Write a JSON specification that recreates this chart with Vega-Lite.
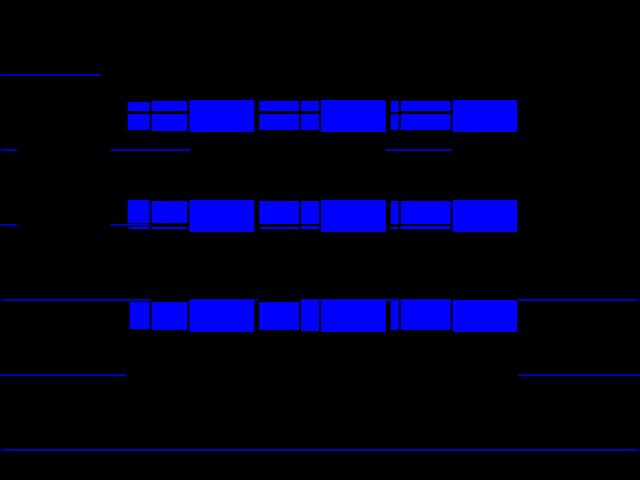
{
  "$schema": "https://vega.github.io/schema/vega-lite/v6.json",
  "description": "Blue blocks on black",
  "width": 640,
  "height": 480,
  "autosize": {"type": "fit", "contains": "padding"},
  "padding": 0,
  "background": "#000000",
  "config": {"view": {"stroke": null}},
  "datasets": {
    "blocks": [
      {"x": 127, "x2": 149, "y": 102, "y2": 111},
      {"x": 127, "x2": 149, "y": 114, "y2": 130},
      {"x": 151, "x2": 187, "y": 101, "y2": 111},
      {"x": 151, "x2": 187, "y": 114, "y2": 131},
      {"x": 189, "x2": 254, "y": 100, "y2": 132},
      {"x": 259, "x2": 299, "y": 101, "y2": 111},
      {"x": 259, "x2": 299, "y": 114, "y2": 130},
      {"x": 301, "x2": 319, "y": 101, "y2": 111},
      {"x": 301, "x2": 319, "y": 114, "y2": 130},
      {"x": 321, "x2": 386, "y": 100, "y2": 132},
      {"x": 391, "x2": 399, "y": 101, "y2": 112},
      {"x": 391, "x2": 399, "y": 114, "y2": 130},
      {"x": 401, "x2": 451, "y": 101, "y2": 111},
      {"x": 401, "x2": 451, "y": 114, "y2": 130},
      {"x": 453, "x2": 518, "y": 100, "y2": 132},
      {"x": 127, "x2": 149, "y": 200, "y2": 223},
      {"x": 128, "x2": 149, "y": 227, "y2": 229},
      {"x": 151, "x2": 187, "y": 201, "y2": 223},
      {"x": 151, "x2": 187, "y": 227, "y2": 229},
      {"x": 189, "x2": 254, "y": 200, "y2": 232},
      {"x": 259, "x2": 299, "y": 201, "y2": 224},
      {"x": 260, "x2": 299, "y": 227, "y2": 229},
      {"x": 301, "x2": 319, "y": 201, "y2": 224},
      {"x": 301, "x2": 319, "y": 226, "y2": 229},
      {"x": 321, "x2": 386, "y": 200, "y2": 232},
      {"x": 391, "x2": 399, "y": 201, "y2": 224},
      {"x": 391, "x2": 399, "y": 227, "y2": 229},
      {"x": 401, "x2": 451, "y": 201, "y2": 224},
      {"x": 401, "x2": 451, "y": 226, "y2": 229},
      {"x": 453, "x2": 518, "y": 200, "y2": 232},
      {"x": 129, "x2": 149, "y": 302, "y2": 329},
      {"x": 151, "x2": 187, "y": 302, "y2": 330},
      {"x": 189, "x2": 254, "y": 300, "y2": 332},
      {"x": 259, "x2": 299, "y": 302, "y2": 330},
      {"x": 301, "x2": 319, "y": 300, "y2": 331},
      {"x": 321, "x2": 386, "y": 300, "y2": 332},
      {"x": 391, "x2": 399, "y": 301, "y2": 330},
      {"x": 401, "x2": 451, "y": 300, "y2": 330},
      {"x": 453, "x2": 518, "y": 300, "y2": 332}
    ],
    "lines": [
      {"y": 75, "x": 0, "x2": 100},
      {"y": 150, "x": 0, "x2": 16},
      {"y": 150, "x": 110, "x2": 190},
      {"y": 150, "x": 386, "x2": 453},
      {"y": 225, "x": 0, "x2": 16},
      {"y": 225, "x": 110, "x2": 150},
      {"y": 300, "x": 0, "x2": 150},
      {"y": 300, "x": 189, "x2": 258},
      {"y": 300, "x": 300, "x2": 452},
      {"y": 300, "x": 518, "x2": 640},
      {"y": 375, "x": 0, "x2": 125},
      {"y": 375, "x": 519, "x2": 640},
      {"y": 450, "x": 0, "x2": 640}
    ]
  },
  "layer": [
    {
      "data": {"name": "lines"},
      "mark": {"type": "rule", "color": "#0000ff", "strokeWidth": 1.5},
      "encoding": {
        "x": {"field": "x", "type": "quantitative", "scale": {"domain": [0, 640], "nice": false, "zero": false}, "axis": null},
        "x2": {"field": "x2"},
        "y": {"field": "y", "type": "quantitative", "scale": {"domain": [0, 480], "nice": false, "zero": false, "reverse": true}, "axis": null}
      }
    },
    {
      "data": {"name": "blocks"},
      "mark": {"type": "rect", "color": "#0000ff"},
      "encoding": {
        "x": {"field": "x", "type": "quantitative", "axis": null},
        "x2": {"field": "x2"},
        "y": {"field": "y", "type": "quantitative", "axis": null},
        "y2": {"field": "y2"}
      }
    }
  ]
}
